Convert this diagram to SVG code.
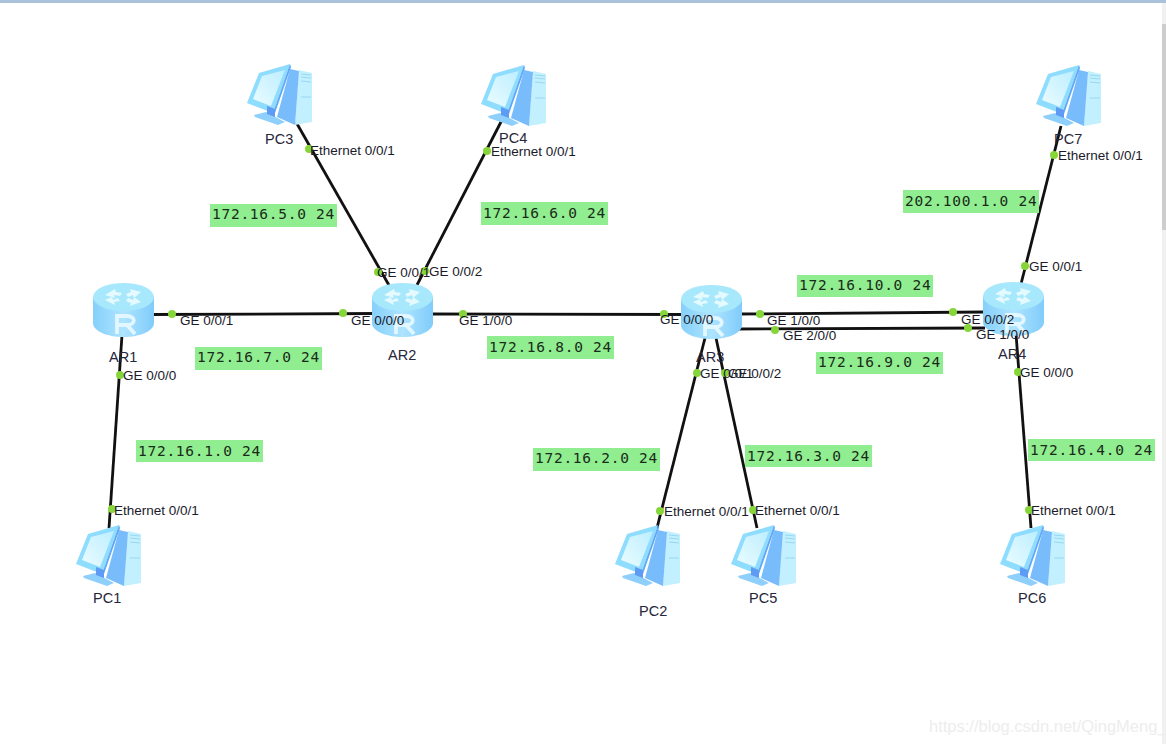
<svg xmlns="http://www.w3.org/2000/svg" width="1166" height="744" viewBox="0 0 1166 744">
<style>
.lnk{stroke:#111;stroke-width:2.8;fill:none;stroke-linecap:butt}
.dot{fill:#86d63a}
.t{font-family:"Liberation Sans",Arial,sans-serif;font-size:13.500px;fill:#1a1a2a}
.n{font-family:"Liberation Sans",Arial,sans-serif;font-size:14.500px;fill:#26263a}
.net rect{fill:#90ee90}
.net text{font-family:"DejaVu Sans Mono","Liberation Mono",monospace;font-size:14.500px;letter-spacing:.73px;fill:#1a2a1a}
</style>
<defs>
<linearGradient id="rb" x1="0" x2="1" y1="0" y2="0"><stop offset="0" stop-color="#86d0fb"/><stop offset="0.5" stop-color="#aee4ff"/><stop offset="1" stop-color="#80ccfb"/></linearGradient>
<linearGradient id="scr" x1="0" x2="1" y1="1" y2="0"><stop offset="0" stop-color="#eafcff"/><stop offset="1" stop-color="#bdeeff"/></linearGradient>
<g id="router">
<path d="M0 14V40C0 48 14 54 30.500 54C47 54 61 48 61 40V14Z" fill="url(#rb)"/>
<ellipse cx="30.500" cy="14" rx="30.500" ry="14" fill="#a8e8fd"/>
<path d="M12 12L22 6l1 3 6 1-2 3-6-1 1 3zM48 9L37 6l1 3-5 2 2 3 5-2 1 3zM12 17l10 5-1-3 6-1-2-3-5 2-1-3zM48 19l-11 4 1-3-5-2 2-3 5 2 1-3z" fill="#e4faff"/>
<path d="M24 51V33H34C43 33 43 42 34 42H25M34 42L42 51" fill="none" stroke="#e2f7ff" stroke-width="3.800"/>
</g>
<g id="pc">
<path d="M52 6L65 9V58L48 61Z" fill="#c2f0fe"/>
<path d="M43 5L52 7 48 61 30 53Z" fill="#78bcfc"/>
<path d="M54 10L64 11M54 13L64 14M54 17L64 18M54 33L64 33" stroke="#98d8f0" stroke-width="1"/>
<path d="M12 9L43 0 26 49 0 39Z" fill="#8edcfe"/>
<path d="M43 0L44 3 28 49 26 49Z" fill="#5fa8f8"/>
<path d="M15 12L38 6 24 42 6 35Z" fill="url(#scr)"/>
<path d="M7 51L19 48 38 58 31 61 8 53Z" fill="#8fcffc"/>
<path d="M20 42L28 45V53L20 50Z" fill="#5e9bf4"/>
</g>
</defs>
<rect width="1166" height="744" fill="#fff"/>
<rect width="1166" height="3" fill="#a9c2da"/>
<rect x="1162" y="3" width="4" height="741" fill="#f1f1f1"/>
<rect x="1162" y="24" width="4" height="206" fill="#cdcdcd"/>
<g id="connectors">
<path class="lnk" d="M150 314.500L378 313.500"/>
<path class="lnk" d="M430 314L686 314.500"/>
<path class="lnk" d="M122 335L109 528"/>
<path class="lnk" d="M296 122L390 287"/>
<path class="lnk" d="M503 118L417 285"/>
<path class="lnk" d="M1061 126L1021 284"/>
<path class="lnk" d="M738 314L985 312"/>
<path class="lnk" d="M735 329L985 328"/>
<path class="lnk" d="M705 338L657 528"/>
<path class="lnk" d="M716 338L757 528"/>
<path class="lnk" d="M1016 334L1031 528"/>
</g>
<g id="PC1"><use href="#pc" x="76" y="525"/><text class="n" x="93" y="603">PC1</text></g>
<g id="PC2"><use href="#pc" x="615" y="525"/><text class="n" x="639" y="616">PC2</text></g>
<g id="PC3"><use href="#pc" x="247" y="64"/><text class="n" x="265" y="144">PC3</text></g>
<g id="PC4"><use href="#pc" x="481" y="65"/><text class="n" x="499" y="143">PC4</text></g>
<g id="PC5"><use href="#pc" x="731" y="525"/><text class="n" x="749" y="603">PC5</text></g>
<g id="PC6"><use href="#pc" x="1000" y="525"/><text class="n" x="1018" y="603">PC6</text></g>
<g id="PC7"><use href="#pc" x="1036" y="65"/><text class="n" x="1054" y="144">PC7</text></g>
<g id="AR1"><use href="#router" x="93" y="283"/><text class="n" x="109" y="362">AR1</text></g>
<g id="AR2"><use href="#router" x="372" y="283"/><text class="n" x="388" y="360">AR2</text></g>
<g id="AR3"><use href="#router" x="681" y="285"/><text class="n" x="696" y="362">AR3</text></g>
<g id="AR4"><use href="#router" x="983" y="282"/><text class="n" x="998" y="359">AR4</text></g>
<g id="port-dots" class="dot">
<circle cx="172" cy="314" r="4"/><circle cx="343" cy="313" r="4"/><circle cx="378" cy="272" r="4"/><circle cx="425" cy="271" r="4"/>
<circle cx="463" cy="314" r="4"/><circle cx="664" cy="314" r="4"/><circle cx="760" cy="314" r="4"/><circle cx="775" cy="330" r="4"/>
<circle cx="953" cy="312" r="4"/><circle cx="968" cy="328" r="4"/><circle cx="1025" cy="266" r="4"/><circle cx="1018" cy="372" r="4"/>
<circle cx="120" cy="375" r="4"/><circle cx="697" cy="373" r="4"/><circle cx="725" cy="373" r="4"/>
<circle cx="112" cy="509" r="4"/><circle cx="660" cy="511" r="4"/><circle cx="753" cy="510" r="4"/><circle cx="1029" cy="510" r="4"/>
<circle cx="309" cy="149" r="4"/><circle cx="487" cy="151" r="4"/><circle cx="1054" cy="155" r="4"/>
</g>
<g id="port-labels">
<text class="t" x="180" y="325">GE 0/0/1</text>
<text class="t" x="351" y="325">GE 0/0/0</text>
<text class="t" x="377" y="277">GE 0/0/1</text>
<text class="t" x="429" y="276">GE 0/0/2</text>
<text class="t" x="459" y="325">GE 1/0/0</text>
<text class="t" x="660" y="324">GE 0/0/0</text>
<text class="t" x="767" y="325">GE 1/0/0</text>
<text class="t" x="783" y="340">GE 2/0/0</text>
<text class="t" x="961" y="324">GE 0/0/2</text>
<text class="t" x="976" y="339">GE 1/0/0</text>
<text class="t" x="1029" y="271">GE 0/0/1</text>
<text class="t" x="1020" y="377">GE 0/0/0</text>
<text class="t" x="123" y="380">GE 0/0/0</text>
<text class="t" x="700" y="378">GE 0/0/1</text>
<text class="t" x="728" y="378">GE 0/0/2</text>
<text class="t" x="114" y="515">Ethernet 0/0/1</text>
<text class="t" x="664" y="516">Ethernet 0/0/1</text>
<text class="t" x="755" y="515">Ethernet 0/0/1</text>
<text class="t" x="1031" y="515">Ethernet 0/0/1</text>
<text class="t" x="310" y="155">Ethernet 0/0/1</text>
<text class="t" x="491" y="156">Ethernet 0/0/1</text>
<text class="t" x="1058" y="160">Ethernet 0/0/1</text>
</g>
<g id="networks" class="net">
<rect x="210" y="204" width="127" height="23"/><text x="212" y="219">172.16.5.0 24</text>
<rect x="481" y="202" width="127" height="23"/><text x="483" y="218">172.16.6.0 24</text>
<rect x="903" y="190" width="136" height="23"/><text x="905" y="206">202.100.1.0 24</text>
<rect x="797" y="275" width="136" height="22"/><text x="799" y="290">172.16.10.0 24</text>
<rect x="195" y="347" width="127" height="23"/><text x="197" y="362">172.16.7.0 24</text>
<rect x="487" y="336" width="127" height="23"/><text x="489" y="352">172.16.8.0 24</text>
<rect x="816" y="352" width="127" height="22"/><text x="818" y="367">172.16.9.0 24</text>
<rect x="136" y="440" width="127" height="22"/><text x="138" y="456">172.16.1.0 24</text>
<rect x="533" y="448" width="127" height="23"/><text x="535" y="463">172.16.2.0 24</text>
<rect x="745" y="445" width="127" height="22"/><text x="747" y="461">172.16.3.0 24</text>
<rect x="1028" y="439" width="127" height="22"/><text x="1030" y="455">172.16.4.0 24</text>
</g>
<text x="929" y="732" font-family="Liberation Sans,sans-serif" font-size="16.500" fill="#ededed">https://blog.csdn.net/QingMeng_</text>
</svg>
